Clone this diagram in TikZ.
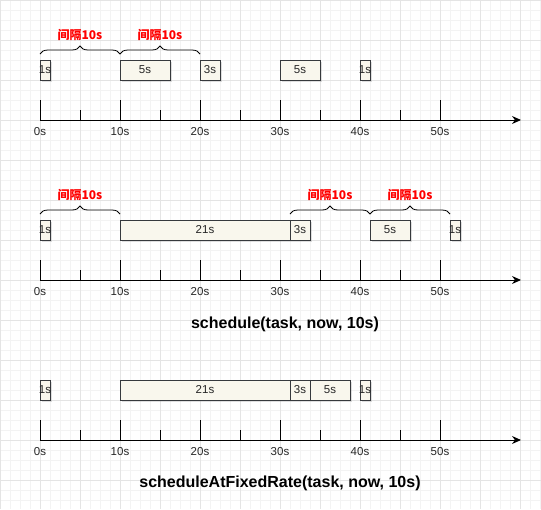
\documentclass[tikz,border=0pt]{standalone}
\usepackage{fontspec}
\setmainfont{Liberation Sans}
\newfontfamily\cjk{Noto Sans CJK SC}
\usetikzlibrary{calc,decorations.pathreplacing,shadows,arrows.meta}
\definecolor{taskfill}{HTML}{F9F7ED}
\definecolor{taskline}{HTML}{36393D}
\definecolor{gridminor}{HTML}{F3F3F3}
\definecolor{gridmajor}{HTML}{E4E4E4}
\definecolor{gapred}{HTML}{FF0000}
\tikzset{x=1pt, y=-1pt,
  axis line/.style={draw=black, line width=1pt},
  tick label/.style={font=\fontsize{11.5}{13}\selectfont, text=black!85, inner sep=0pt},
  task box/.style={draw=taskline, fill=taskfill, line width=0.9pt,
        drop shadow={shadow xshift=2pt, shadow yshift=-2pt, opacity=0.25}},
  task text/.style={inner sep=0pt, font=\fontsize{11.5}{13}\selectfont, text=black!85},
  gap brace/.style={draw=black, line width=0.8pt,
        decorate, decoration={brace, amplitude=8pt}},
  gap label/.style={font=\cjk\bfseries\fontsize{12}{14}\selectfont, text=gapred, inner sep=0pt},
  call title/.style={font=\bfseries\fontsize{16}{18}\selectfont, inner sep=0pt}
}
% time axis: name, y
\def\TimeAxis#1#2{%
  \coordinate (#1 start) at (40,#2);
  \coordinate (#1 end) at (521,#2);
  \draw[axis line, -{Stealth[length=9pt,width=8pt]}] (#1 start) -- (#1 end);
  \foreach \t in {0,10,...,50} {
    \draw[axis line] (40+8*\t,#2) -- +(0,-20);
    \node[tick label] (#1 lbl\t) at (40+8*\t,#2+12) {\t s};
  }
  \foreach \t in {5,15,...,45}
    \draw[axis line] (40+8*\t,#2) -- +(0,-10);
}
% task box: name, top, left, right, text
\def\TaskBox#1#2#3#4#5{%
  \draw[task box] (#3,#2) rectangle (#4,#2+20)
    node[task text, midway] (#1) {#5};
}
% interval brace: name, y, from, to
\def\Interval#1#2#3#4{%
  \coordinate (#1 a) at (#3,#2);
  \coordinate (#1 b) at (#4,#2);
  \draw[gap brace] (#1 a) -- (#1 b);
  \node[gap label] (#1 lbl) at ($(#1 a)!0.5!(#1 b)+(0,-19)$) {间隔10s};
}

\begin{document}
\begin{tikzpicture}
\useasboundingbox[fill=white] (0,0) rectangle (541,509);
\foreach \g in {0,10,...,540}
  \draw[gridminor, line width=0.6pt] (\g,0) -- (\g,509);
\foreach \g in {0,10,...,500}
  \draw[gridminor, line width=0.6pt] (0,\g) -- (541,\g);
\foreach \g in {0,40,...,520}
  \draw[gridmajor, line width=0.6pt] (\g,0) -- (\g,509);
\foreach \g in {0,40,...,480}
  \draw[gridmajor, line width=0.6pt] (0,\g) -- (541,\g);

% plain run
\Interval{gapA}{54}{40}{120}
\Interval{gapB}{54}{120}{200}
\TaskBox{runA1}{60}{40}{50}{1s}
\TaskBox{runA2}{60}{120}{170}{5s}
\TaskBox{runA3}{60}{200}{220}{3s}
\TaskBox{runA4}{60}{280}{320}{5s}
\TaskBox{runA5}{60}{360}{370}{1s}
\TimeAxis{axisA}{120}

% schedule
\Interval{gapC}{214}{40}{120}
\Interval{gapD}{214}{290}{370}
\Interval{gapE}{214}{370}{450}
\TaskBox{runB1}{220}{40}{50}{1s}
\TaskBox{runB2}{220}{120}{290}{21s}
\TaskBox{runB3}{220}{290}{310}{3s}
\TaskBox{runB4}{220}{370}{410}{5s}
\TaskBox{runB5}{220}{450}{460}{1s}
\TimeAxis{axisB}{280}
\node[call title] (titleB) at (285,324) {schedule(task, now, 10s)};

% scheduleAtFixedRate
\TaskBox{runC1}{380}{40}{50}{1s}
\TaskBox{runC2}{380}{120}{290}{21s}
\TaskBox{runC3}{380}{290}{310}{3s}
\TaskBox{runC4}{380}{310}{350}{5s}
\TaskBox{runC5}{380}{360}{370}{1s}
\TimeAxis{axisC}{440}
\node[call title] (titleC) at (280,483) {scheduleAtFixedRate(task, now, 10s)};
\end{tikzpicture}
\end{document}
